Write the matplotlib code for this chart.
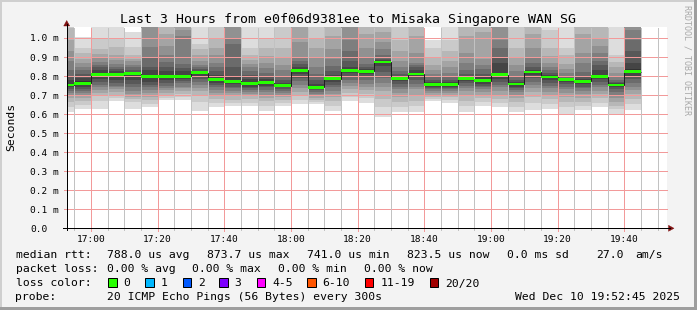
import matplotlib
matplotlib.use("Agg")
import matplotlib.pyplot as plt
from matplotlib.transforms import Affine2D, blended_transform_factory, ScaledTranslation
from matplotlib.patches import Rectangle, Polygon
from matplotlib.lines import Line2D
import numpy as np

# ---------------- data ----------------
title = "Last 3 Hours from e0f06d9381ee to Misaka Singapore WAN SG"
view_start = "16:52:45"
view_minutes = 180
step_minutes = 5

# end time of each 5-minute sample
times = ["16:55", "17:00", "17:05", "17:10", "17:15", "17:20", "17:25", "17:30",
         "17:35", "17:40", "17:45", "17:50", "17:55", "18:00", "18:05", "18:10",
         "18:15", "18:20", "18:25", "18:30", "18:35", "18:40", "18:45", "18:50",
         "18:55", "19:00", "19:05", "19:10", "19:15", "19:20", "19:25", "19:30",
         "19:35", "19:40", "19:45"]

# median rtt (ms)
medians = [0.753, 0.763, 0.807, 0.807, 0.812, 0.796, 0.796, 0.798, 0.817, 0.780,
           0.773, 0.759, 0.765, 0.749, 0.830, 0.741, 0.786, 0.830, 0.826, 0.8737,
           0.789, 0.811, 0.756, 0.756, 0.786, 0.775, 0.807, 0.758, 0.821, 0.795,
           0.781, 0.772, 0.796, 0.753, 0.8235]

# 20 sorted ping rtts (ms) per sample
p1655 = [0.612, 0.64, 0.665, 0.685, 0.70, 0.71, 0.72, 0.73, 0.74, 0.746, 0.76, 0.78, 0.80, 0.83, 0.88, 0.93, 0.99, 1.05, 1.10, 1.20]
p1700 = [0.628, 0.65, 0.67, 0.685, 0.70, 0.71, 0.72, 0.732, 0.745, 0.755, 0.772, 0.79, 0.81, 0.83, 0.85, 0.87, 0.89, 0.92, 0.945, 1.005]
p1705 = [0.628, 0.67, 0.695, 0.71, 0.725, 0.74, 0.755, 0.77, 0.785, 0.80, 0.814, 0.83, 0.845, 0.86, 0.875, 0.895, 0.915, 0.94, 0.995, 1.08]
p1710 = [0.67, 0.685, 0.70, 0.715, 0.73, 0.74, 0.75, 0.762, 0.78, 0.80, 0.814, 0.825, 0.835, 0.85, 0.865, 0.885, 0.91, 0.955, 1.00, 1.08]
p1715 = [0.628, 0.665, 0.68, 0.69, 0.705, 0.72, 0.74, 0.76, 0.78, 0.808, 0.816, 0.822, 0.83, 0.845, 0.86, 0.877, 0.89, 0.91, 0.955, 1.03]
p1720 = [0.635, 0.655, 0.675, 0.69, 0.71, 0.725, 0.74, 0.755, 0.77, 0.788, 0.805, 0.83, 0.85, 0.898, 0.951, 1.07, 1.09, 1.12, 1.18, 1.25]
p1725 = [0.672, 0.685, 0.70, 0.712, 0.725, 0.738, 0.75, 0.765, 0.78, 0.792, 0.80, 0.825, 0.85, 0.875, 0.91, 0.96, 1.02, 1.07, 1.10, 1.20]
p1730 = [0.672, 0.69, 0.705, 0.72, 0.735, 0.745, 0.765, 0.775, 0.785, 0.795, 0.80, 0.825, 0.84, 0.863, 1.012, 1.04, 1.10, 1.17, 1.22, 1.30]
p1735 = [0.614, 0.665, 0.70, 0.72, 0.735, 0.755, 0.77, 0.785, 0.80, 0.814, 0.82, 0.828, 0.836, 0.845, 0.86, 0.88, 0.91, 0.94, 0.968, 1.10]
p1740 = [0.64, 0.66, 0.68, 0.695, 0.71, 0.725, 0.74, 0.752, 0.765, 0.773, 0.787, 0.805, 0.825, 0.845, 0.87, 0.91, 0.95, 1.00, 1.08, 1.14]
p1745 = [0.644, 0.66, 0.675, 0.695, 0.71, 0.72, 0.735, 0.745, 0.76, 0.768, 0.78, 0.80, 0.846, 0.968, 1.00, 1.07, 1.12, 1.16, 1.22, 1.30]
p1750 = [0.645, 0.66, 0.68, 0.695, 0.705, 0.715, 0.725, 0.735, 0.745, 0.753, 0.765, 0.785, 0.805, 0.825, 0.845, 0.865, 0.885, 0.91, 0.95, 1.10]
p1755 = [0.618, 0.645, 0.67, 0.685, 0.70, 0.715, 0.728, 0.74, 0.75, 0.76, 0.77, 0.785, 0.80, 0.815, 0.84, 0.87, 0.905, 0.95, 1.00, 1.10]
p1800 = [0.644, 0.66, 0.675, 0.688, 0.70, 0.71, 0.72, 0.73, 0.74, 0.745, 0.755, 0.765, 0.78, 0.80, 0.83, 0.86, 0.90, 0.95, 1.06, 1.10]
p1805 = [0.655, 0.675, 0.695, 0.715, 0.735, 0.755, 0.775, 0.79, 0.81, 0.826, 0.837, 0.85, 0.863, 0.88, 0.898, 0.977, 1.08, 1.12, 1.20, 1.30]
p1810 = [0.655, 0.665, 0.675, 0.685, 0.695, 0.705, 0.715, 0.725, 0.732, 0.738, 0.745, 0.76, 0.78, 0.81, 0.85, 0.90, 0.95, 1.00, 1.08, 1.15]
p1815 = [0.618, 0.645, 0.67, 0.69, 0.705, 0.72, 0.74, 0.755, 0.77, 0.782, 0.79, 0.805, 0.825, 0.855, 0.89, 0.94, 1.01, 1.08, 1.15, 1.25]
p1820 = [0.668, 0.69, 0.71, 0.73, 0.75, 0.765, 0.78, 0.80, 0.815, 0.826, 0.835, 0.85, 0.88, 0.93, 0.99, 1.06, 1.09, 1.13, 1.20, 1.30]
p1825 = [0.661, 0.685, 0.705, 0.725, 0.745, 0.76, 0.78, 0.795, 0.81, 0.822, 0.83, 0.835, 0.845, 0.865, 0.90, 0.95, 1.02, 1.09, 1.15, 1.25]
p1830 = [0.587, 0.635, 0.68, 0.72, 0.745, 0.765, 0.79, 0.82, 0.855, 0.870, 0.878, 0.885, 0.89, 0.91, 0.94, 0.98, 1.03, 1.09, 1.15, 1.30]
p1835 = [0.612, 0.64, 0.665, 0.69, 0.71, 0.73, 0.745, 0.76, 0.775, 0.786, 0.792, 0.80, 0.81, 0.825, 0.85, 0.88, 0.93, 0.99, 1.08, 1.15]
p1840 = [0.612, 0.645, 0.67, 0.70, 0.73, 0.745, 0.76, 0.78, 0.795, 0.806, 0.815, 0.83, 0.845, 0.86, 0.87, 0.92, 1.01, 1.08, 1.15, 1.25]
p1845 = [0.667, 0.68, 0.69, 0.70, 0.71, 0.72, 0.73, 0.738, 0.745, 0.752, 0.76, 0.768, 0.78, 0.795, 0.81, 0.83, 0.86, 0.90, 0.945, 0.99]
p1850 = [0.661, 0.675, 0.69, 0.70, 0.71, 0.72, 0.73, 0.738, 0.745, 0.752, 0.76, 0.768, 0.78, 0.795, 0.815, 0.845, 0.88, 0.93, 0.99, 1.06]
p1855 = [0.612, 0.645, 0.67, 0.695, 0.72, 0.735, 0.75, 0.765, 0.775, 0.782, 0.79, 0.80, 0.81, 0.83, 0.87, 0.92, 1.01, 1.08, 1.15, 1.25]
p1900 = [0.645, 0.665, 0.685, 0.70, 0.715, 0.73, 0.74, 0.75, 0.76, 0.770, 0.782, 0.795, 0.81, 0.835, 0.86, 0.89, 1.03, 1.09, 1.15, 1.25]
p1905 = [0.637, 0.66, 0.68, 0.70, 0.72, 0.74, 0.755, 0.77, 0.785, 0.80, 0.815, 0.87, 0.90, 0.95, 0.99, 1.07, 1.10, 1.14, 1.20, 1.30]
p1910 = [0.612, 0.64, 0.665, 0.685, 0.70, 0.715, 0.725, 0.735, 0.745, 0.754, 0.762, 0.77, 0.78, 0.80, 0.825, 0.86, 0.90, 0.95, 1.10, 1.20]
p1915 = [0.622, 0.66, 0.69, 0.715, 0.735, 0.755, 0.77, 0.79, 0.805, 0.817, 0.825, 0.832, 0.845, 0.87, 0.90, 0.95, 1.02, 1.09, 1.15, 1.25]
p1920 = [0.625, 0.655, 0.68, 0.70, 0.715, 0.735, 0.75, 0.765, 0.78, 0.792, 0.798, 0.805, 0.815, 0.83, 0.85, 0.87, 0.905, 0.95, 1.04, 1.12]
p1925 = [0.594, 0.635, 0.665, 0.69, 0.71, 0.73, 0.745, 0.76, 0.77, 0.779, 0.783, 0.787, 0.792, 0.80, 0.815, 0.835, 0.865, 0.91, 0.95, 1.10]
p1930 = [0.62, 0.645, 0.665, 0.685, 0.705, 0.72, 0.735, 0.745, 0.758, 0.768, 0.777, 0.785, 0.80, 0.82, 0.87, 0.92, 1.02, 1.09, 1.15, 1.25]
p1935 = [0.635, 0.66, 0.685, 0.705, 0.72, 0.74, 0.755, 0.77, 0.785, 0.792, 0.80, 0.83, 0.86, 0.88, 0.92, 0.96, 1.00, 1.08, 1.15, 1.25]
p1940 = [0.60, 0.625, 0.645, 0.665, 0.685, 0.70, 0.715, 0.73, 0.742, 0.75, 0.756, 0.762, 0.77, 0.78, 0.795, 0.815, 0.845, 0.875, 0.91, 1.10]
p1945 = [0.622, 0.655, 0.68, 0.705, 0.725, 0.745, 0.765, 0.785, 0.80, 0.815, 0.835, 0.87, 0.93, 0.99, 1.04, 1.08, 1.12, 1.16, 1.22, 1.30]

pings = [p1655, p1700, p1705, p1710, p1715, p1720, p1725, p1730, p1735, p1740,
         p1745, p1750, p1755, p1800, p1805, p1810, p1815, p1820, p1825, p1830,
         p1835, p1840, p1845, p1850, p1855, p1900, p1905, p1910, p1915, p1920,
         p1925, p1930, p1935, p1940, p1945]

x_tick_labels = ["17:00", "17:20", "17:40", "18:00", "18:20", "18:40", "19:00", "19:20", "19:40"]
y_ticks = [0.0, 0.1, 0.2, 0.3, 0.4, 0.5, 0.6, 0.7, 0.8, 0.9, 1.0]
y_tick_labels = ["0.0", "0.1 m", "0.2 m", "0.3 m", "0.4 m", "0.5 m", "0.6 m", "0.7 m", "0.8 m", "0.9 m", "1.0 m"]
y_max = 1.0578

loss_labels = ["0", "1", "2", "3", "4-5", "6-10", "11-19", "20/20"]
loss_colors = ["#26ff00", "#00b8ff", "#0059ff", "#7e00ff", "#ff00ff", "#ff5500", "#ff0000", "#a10000"]

stats_row1 = ["788.0 us avg", "873.7 us max", "741.0 us min", "823.5 us now", "0.0 ms sd", "27.0", "am/s"]
stats_row2 = ["0.00 % avg", "0.00 % max", "0.00 % min", "0.00 % now"]
probe_text = "20 ICMP Echo Pings (56 Bytes) every 300s"
stamp_text = "Wed Dec 10 19:52:45 2025"

# ---------------- layout (pixels) ----------------
W, H = 697, 310
plt.rcParams['font.family'] = ['DejaVu Sans Mono']

def tmin(s):
    parts = [float(v) for v in s.split(":")]
    return parts[0] * 60 + parts[1] + (parts[2] / 60 if len(parts) > 2 else 0)

fig = plt.figure(figsize=(W / 100, H / 100), dpi=100, facecolor="#f3f3f3")
T = Affine2D().scale(1, -1).translate(0, H)  # pixel coords, origin top-left

ax_l, ax_r, ax_t, ax_b = 66.7, 666.7, 27.0, 228.3
ax = fig.add_axes([ax_l / W, 1 - ax_b / H, (ax_r - ax_l) / W, (ax_b - ax_t) / H])
ax.set_facecolor("white")
for sp in ax.spines.values():
    sp.set_visible(False)
ax.set_xticks([])
ax.set_yticks([])
x0 = tmin(view_start)
ax.set_xlim(x0, x0 + view_minutes)
ax.set_ylim(0, y_max)

ends = np.array([tmin(t) for t in times])
starts = ends - step_minutes
P = np.array(pings)

# smoke bands
half = P.shape[1] // 2
for i in range(half):
    level = int(190 / half * (half - (i + 1))) + 50
    col = "#%02x%02x%02x" % (level, level, level)
    lo = P[:, i]
    hi = P[:, P.shape[1] - 1 - i]
    ax.bar(starts, hi - lo, bottom=lo, width=step_minutes, align="edge",
           color=col, linewidth=0, antialiased=False, zorder=1)

# grid (dotted)
major_c = "#f29a9a"
minor_c = "#c2c2c2"
ext_x = 3.0 / (ax_r - ax_l)
ext_y = 3.0 / (ax_b - ax_t)
ytr = ax.get_yaxis_transform()
xtr = ax.get_xaxis_transform()
for v in y_ticks[1:]:
    ax.add_line(Line2D([-ext_x, 1 + ext_x * 0.5], [v, v], transform=ytr, color=major_c,
                       lw=0.72, linestyle=(0, (1, 1)), antialiased=False, clip_on=False,
                       zorder=2.5))
major_minutes = [tmin(t) for t in x_tick_labels]
minor_minutes = [tmin("16:55") + step_minutes * k for k in range(36)]
for m in minor_minutes:
    if m > x0 + view_minutes:
        continue
    is_major = any(abs(m - mm) < 1e-6 for mm in major_minutes)
    if is_major:
        continue
    ax.add_line(Line2D([m, m], [-1.5 / (ax_b - ax_t), 1], transform=xtr, color=minor_c,
                       lw=0.72, linestyle=(0, (1, 1)), antialiased=False, clip_on=False,
                       zorder=2.5))
for m in major_minutes:
    ax.add_line(Line2D([m, m], [-ext_y, 1], transform=xtr, color=major_c,
                       lw=0.72, linestyle=(0, (1, 1)), antialiased=False, clip_on=False,
                       zorder=2.6))

# median: thin dark step line + loss-coloured bar
edges = np.append(starts, ends[-1])
ax.stairs(medians, edges, baseline=None, color="#202020", lw=0.72, zorder=3)
hw = 0.0075
med = np.array(medians)
ax.bar(starts, 2 * hw, bottom=med - hw, width=step_minutes, align="edge",
       color=loss_colors[0], linewidth=0, antialiased=False, zorder=4)

# axes lines and arrows
fig.add_artist(Line2D([ax_l, ax_l], [ax_b + 2, 24], transform=T, color="black", lw=0.72))
fig.add_artist(Line2D([ax_l - 4, 670], [ax_b, ax_b], transform=T, color="black", lw=0.72))
arrow_c = "#7f1010"
fig.add_artist(Polygon([[ax_l - 3, 26], [ax_l + 3, 26], [ax_l, 20.5]], closed=True, transform=T,
                       facecolor=arrow_c, edgecolor=arrow_c, lw=0.3))
fig.add_artist(Polygon([[668.5, ax_b - 3], [668.5, ax_b + 3], [674, ax_b]], closed=True, transform=T,
                       facecolor=arrow_c, edgecolor=arrow_c, lw=0.3))

# tick labels
fs_axis = 6.8
ylab_tr = ytr + ScaledTranslation(0, -3.5 / 100, fig.dpi_scale_trans)
for v, s in zip(y_ticks, y_tick_labels):
    ax.text((30.0 - ax_l) / (ax_r - ax_l), v, s, transform=ylab_tr, ha="left", va="baseline",
            fontsize=fs_axis, clip_on=False)
xlab_tr = blended_transform_factory(ax.transData, T)
for s in x_tick_labels:
    ax.text(tmin(s), 241.7, s, transform=xlab_tr, ha="center", va="baseline",
            fontsize=fs_axis, clip_on=False)

# title, unit, watermark
fig.text(347.7, 23.3, title, transform=T, ha="center", va="baseline", fontsize=9.54)
fig.text(11.5, 127, "Seconds", transform=T, ha="center", va="center", rotation=90, fontsize=8.2)
fig.text(687, 60, "RRDTOOL / TOBI OETIKER", transform=T, ha="center", va="center",
         rotation=-90, fontsize=6.0, color="#a8a8a8")

# legend rows
fs_leg = 8.23
row_y = [258.3, 272.3, 286.5, 300.3]
fig.text(15.5, row_y[0], "median rtt:", transform=T, fontsize=fs_leg, va="baseline")
for x, s in zip([107.0, 207.0, 307.0, 406.8, 506.6, 596.0, 635.5], stats_row1):
    fig.text(x, row_y[0], s, transform=T, fontsize=fs_leg, va="baseline")
fig.text(15.5, row_y[1], "packet loss:", transform=T, fontsize=fs_leg, va="baseline")
for x, s in zip([107.0, 191.9, 278.5, 363.7], stats_row2):
    fig.text(x, row_y[1], s, transform=T, fontsize=fs_leg, va="baseline")
fig.text(15.5, row_y[2], "loss color:", transform=T, fontsize=fs_leg, va="baseline")
sq_x = [108.3, 145.2, 182.5, 219.4, 256.7, 307.3, 365.0, 429.8]
for x, lab, c in zip(sq_x, loss_labels, loss_colors):
    fig.add_artist(Rectangle((x, 278.2), 8.3, 8.5, transform=T, facecolor=c,
                             edgecolor="black", lw=0.72))
    fig.text(x + 15.3, row_y[2], lab, transform=T, fontsize=fs_leg, va="baseline")
fig.text(15.5, row_y[3], "probe:", transform=T, fontsize=fs_leg, va="baseline")
fig.text(107.0, row_y[3], probe_text, transform=T, fontsize=fs_leg, va="baseline")
fig.text(680.0, row_y[3], stamp_text, transform=T, fontsize=fs_leg, va="baseline", ha="right")

# frame
fig.add_artist(Rectangle((0, 0), W, 2, transform=T, facecolor="#cfcfcf", lw=0))
fig.add_artist(Rectangle((0, 0), 2, H, transform=T, facecolor="#cfcfcf", lw=0))
fig.add_artist(Rectangle((0, H - 3), W, 3, transform=T, facecolor="#9e9e9e", lw=0))
fig.add_artist(Rectangle((W - 3, 0), 3, H, transform=T, facecolor="#9e9e9e", lw=0))

fig.savefig("out.png", dpi=100, facecolor=fig.get_facecolor())
